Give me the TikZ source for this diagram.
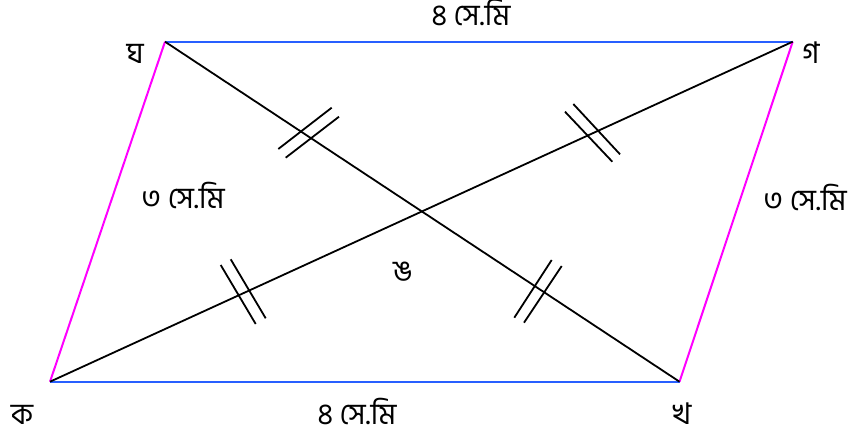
\documentclass[tikz,border=0pt]{standalone}
\usepackage{fontspec}
\newfontfamily\bnfont[Script=Bengali]{Hind Siliguri}
\definecolor{sideblue}{RGB}{40,95,255}
\definecolor{sidemag}{RGB}{255,0,255}
\begin{document}
\begin{tikzpicture}[x=1bp,y=-1bp,
  lbl/.style={font=\bnfont\fontsize{30}{34}\selectfont, inner sep=0pt,
    anchor=base, text height=0.7em, text depth=0.05em},
  bside/.style={draw=sideblue, line width=2.2bp},
  mside/.style={draw=sidemag, line width=2bp},
  diag/.style={draw=black, line width=1.8bp},
  tick/.style={draw=black, line width=1.8bp}]
\useasboundingbox (0,0) rectangle (852,435);
% vertices
\coordinate (K) at (50,381.7);
\coordinate (Kh) at (679.5,381.7);
\coordinate (G) at (792.7,41.7);
\coordinate (Gh) at (165,41.7);
% sides
\draw[bside] (Gh) -- (G);
\draw[bside] (K) -- (Kh);
\draw[mside] (K) -- (Gh);
\draw[mside] (Kh) -- (G);
% diagonals
\draw[diag] (Gh) -- (Kh);
\draw[diag] (K) -- (G);
% tick marks
\draw[tick] (278.3,149) -- (331.7,107.7);
\draw[tick] (285.7,157.7) -- (339,116.7);
\draw[tick] (565,111.7) -- (612.3,161.7);
\draw[tick] (573.3,104) -- (620,154.3);
\draw[tick] (220.7,265) -- (255.7,324);
\draw[tick] (230.7,259.3) -- (265.7,318.3);
\draw[tick] (551.7,260) -- (514.3,317.7);
\draw[tick] (561.7,266) -- (524,322.7);
% labels
\node[lbl] (lK) at (22,424) {ক};
\node[lbl] (lKh) at (682,424) {খ};
\node[lbl] (lG) at (811,64) {গ};
\node[lbl] (lGh) at (135,64) {ঘ};
\node[lbl] (lO) at (403,282) {ঙ};
\node[lbl] (top) at (471,26) {৪ সে.মি};
\node[lbl] (bot) at (357,424) {৪ সে.মি};
\node[lbl] (lft) at (183,209) {৩ সে.মি};
\node[lbl] (rgt) at (805,211) {৩ সে.মি};
\end{tikzpicture}
\end{document}
